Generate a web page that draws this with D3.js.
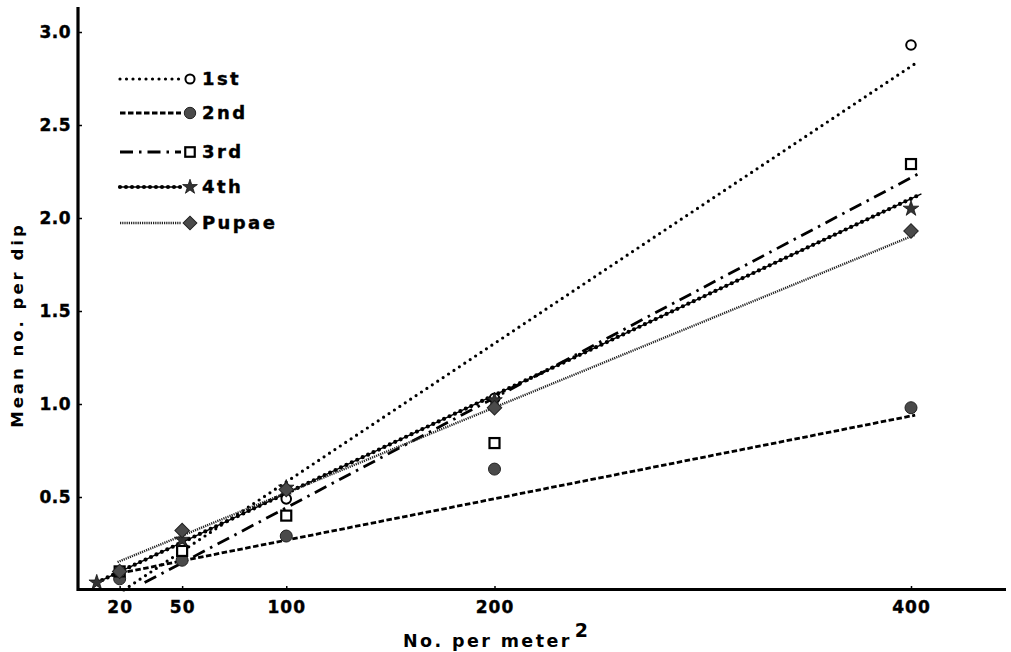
<!DOCTYPE html>
<html><head><meta charset="utf-8">
<script src="https://cdn.jsdelivr.net/npm/d3@7"></script>
<style>
html,body{margin:0;padding:0;background:#fff;}
text{font-family:"DejaVu Sans",sans-serif;font-weight:bold;fill:#000;}
</style></head>
<body><svg id="c" width="1011" height="652"></svg>
<script>
// ---- data ----
const xTicks = [20, 50, 100, 200, 400];
const yTicks = [0.5, 1.0, 1.5, 2.0, 2.5, 3.0];
const seriesNames = ["1st", "2nd", "3rd", "4th", "Pupae"];
// observed points (density, mean per dip)
const x1st = [20, 50, 100, 200, 400];
const y1st = [0.08, 0.23, 0.49, 1.03, 2.93];
const x2nd = [20, 50, 100, 200, 400];
const y2nd = [0.06, 0.16, 0.29, 0.65, 0.98];
const x3rd = [20, 50, 100, 200, 400];
const y3rd = [0.10, 0.21, 0.40, 0.79, 2.29];
const x4th = [9, 50, 100, 200, 400];
const y4th = [0.04, 0.27, 0.55, 1.02, 2.05];
const xPupae = [20, 50, 100, 200, 400];
const yPupae = [0.10, 0.32, 0.54, 0.98, 1.93];
// fitted regression lines (start, end)
const fitX1st = [22, 402],   fitY1st = [0.00, 2.83];
const fitX2nd = [20, 402],   fitY2nd = [0.09, 0.94];
const fitX3rd = [32, 404],   fitY3rd = [0.04, 2.24];
const fitX4th = [9, 405],    fitY4th = [0.04, 2.13];
const fitXPupae = [19, 402], fitYPupae = [0.15, 1.91];

// ---- drawing ----
const svg = d3.select("#c");
const x = d3.scaleLinear().domain([0, 400]).range([78, 911]);
const y = d3.scaleLinear().domain([0, 3]).range([590, 32]);

const zip = (a, b) => a.map((v, i) => [v, b[i]]);
const series = [
  {name: seriesNames[0], pts: zip(x1st, y1st), fit: zip(fitX1st, fitY1st)},
  {name: seriesNames[1], pts: zip(x2nd, y2nd), fit: zip(fitX2nd, fitY2nd)},
  {name: seriesNames[2], pts: zip(x3rd, y3rd), fit: zip(fitX3rd, fitY3rd)},
  {name: seriesNames[3], pts: zip(x4th, y4th), fit: zip(fitX4th, fitY4th)},
  {name: seriesNames[4], pts: zip(xPupae, yPupae), fit: zip(fitXPupae, fitYPupae)}
];

const lineStyles = [
  [{w: 3.2, dash: "0 6.5", cap: "round", col: "#000"}],
  [{w: 2.8, dash: "5.5 2.5", cap: "butt", col: "#000"}],
  [{w: 2.8, dash: "13 6 2.5 6", cap: "butt", col: "#000"}],
  [{w: 1.4, dash: null, cap: "butt", col: "#000"}, {w: 4.2, dash: "0 6", cap: "round", col: "#000"}],
  [{w: 2.4, dash: "1.2 1", cap: "butt", col: "#222"}]
];

function drawSymbol(g, i, cx, cy, scale) {
  scale = scale || 1;
  if (i === 0) {
    g.append("circle").attr("cx", cx).attr("cy", cy).attr("r", 4.8 * scale)
      .attr("fill", "#fff").attr("stroke", "#000").attr("stroke-width", 2);
  } else if (i === 1) {
    g.append("circle").attr("cx", cx).attr("cy", cy).attr("r", 6 * scale)
      .attr("fill", "#4a4a4a").attr("stroke", "#222").attr("stroke-width", 1);
  } else if (i === 2) {
    const s = 10 * scale;
    g.append("rect").attr("x", cx - s / 2).attr("y", cy - s / 2).attr("width", s).attr("height", s)
      .attr("fill", "#fff").attr("stroke", "#000").attr("stroke-width", 2.2);
  } else if (i === 3) {
    g.append("path").attr("d", d3.symbol().type(d3.symbolStar).size(75 * scale * scale)())
      .attr("transform", `translate(${cx},${cy})`).attr("fill", "#333").attr("stroke", "#111").attr("stroke-width", 0.8);
  } else {
    g.append("path").attr("d", d3.symbol().type(d3.symbolSquare).size(105 * scale * scale)())
      .attr("transform", `translate(${cx},${cy}) rotate(45)`).attr("fill", "#4a4a4a").attr("stroke", "#222").attr("stroke-width", 1);
  }
}

const line = d3.line().x(d => x(d[0])).y(d => y(d[1]));

// fitted lines
series.forEach((s, i) => {
  lineStyles[i].forEach(st => {
    const p = svg.append("path").attr("d", line(s.fit)).attr("fill", "none")
      .attr("stroke", st.col).attr("stroke-width", st.w).attr("stroke-linecap", st.cap);
    if (st.dash) p.attr("stroke-dasharray", st.dash);
  });
});

// points
const pg = svg.append("g");
series.forEach((s, i) => {
  s.pts.forEach(d => drawSymbol(pg, i, x(d[0]), y(d[1])));
});

// axes
const xAxis = d3.axisBottom(x).tickValues(xTicks).tickSize(-4).tickPadding(10).tickFormat(d3.format("d"));
const gx = svg.append("g").attr("transform", `translate(0,${590})`).call(xAxis);
gx.select(".domain").remove();
gx.selectAll(".tick line").attr("stroke", "#000").attr("stroke-width", 1.5);
gx.selectAll(".tick text").attr("font-size", 17).attr("font-family", "DejaVu Sans").attr("font-weight", "bold")
  .attr("letter-spacing", 1).attr("fill", "#000").attr("stroke", "#000").attr("stroke-width", 0.4)
  .attr("y", 8).attr("dy", "0.9em");
svg.append("line").attr("x1", 77).attr("x2", 1006).attr("y1", 589.5).attr("y2", 589.5)
  .attr("stroke", "#000").attr("stroke-width", 3);

const yAxis = d3.axisLeft(y).tickValues(yTicks).tickSize(-4).tickPadding(6).tickFormat(d3.format(".1f"));
const gy = svg.append("g").attr("transform", `translate(78,0)`).call(yAxis);
gy.select(".domain").remove();
gy.selectAll(".tick line").attr("stroke", "#000").attr("stroke-width", 1.5);
gy.selectAll(".tick text").attr("font-size", 17).attr("font-family", "DejaVu Sans").attr("font-weight", "bold")
  .attr("letter-spacing", 0.5).attr("fill", "#000").attr("stroke", "#000").attr("stroke-width", 0.4).attr("x", -7);
svg.append("line").attr("x1", 78).attr("x2", 78).attr("y1", 7).attr("y2", 591)
  .attr("stroke", "#000").attr("stroke-width", 3.2);

// axis titles
svg.append("text").attr("transform", "translate(23,325) rotate(-90)").attr("text-anchor", "middle")
  .attr("font-size", 16.5).attr("letter-spacing", 3).text("Mean no. per dip");
const xt = svg.append("text").attr("x", 403).attr("y", 647).attr("font-size", 17.5).attr("letter-spacing", 2.4);
xt.append("tspan").text("No. per meter");
xt.append("tspan").attr("dx", 3).attr("dy", -10).attr("font-size", 19).text("2");

// legend
const legY = [79, 113, 152, 187, 223];
const lg = svg.append("g");
series.forEach((s, i) => {
  const ly = legY[i];
  lineStyles[i].forEach(st => {
    const p = lg.append("line").attr("x1", 120).attr("x2", 181).attr("y1", ly).attr("y2", ly)
      .attr("stroke", st.col).attr("stroke-width", st.w).attr("stroke-linecap", st.cap);
    if (st.dash) p.attr("stroke-dasharray", st.dash);
  });
  drawSymbol(lg, i, 190, ly, 0.95);
  lg.append("text").attr("x", 202).attr("y", ly).attr("dy", "0.36em").attr("font-size", 18)
    .attr("stroke", "#000").attr("stroke-width", 0.4)
    .attr("letter-spacing", 2.4).text(s.name);
});
</script></body></html>
